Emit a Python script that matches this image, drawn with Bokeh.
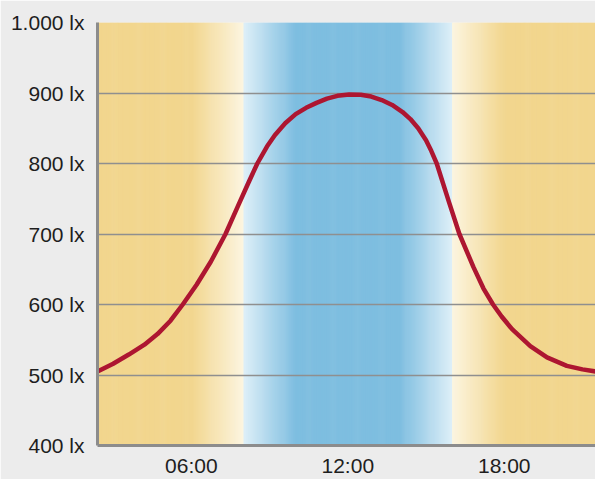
import numpy as np
from bokeh.plotting import figure
from bokeh.models import Range1d, FixedTicker
from bokeh.embed import file_html
from bokeh.resources import INLINE

# ---- data (hours of day, illuminance in lux) ----
hours = [2.30, 2.40, 3.00, 3.60, 4.20, 4.70, 5.20, 5.67, 6.20, 6.75, 7.31, 7.79,
         8.18, 8.53, 8.90, 9.20, 9.60, 10.00, 10.40, 10.80, 11.20, 11.60, 12.05,
         12.50, 12.90, 13.30, 13.70, 14.10, 14.40, 14.70, 15.00, 15.20, 15.41,
         15.90, 16.28, 16.82, 17.20, 17.57, 17.90, 18.30, 19.00, 19.64, 20.40,
         21.00, 21.50, 21.60]
lux = [504, 505, 516, 529, 543, 558, 577, 600, 628, 661, 700, 740,
       772, 800, 824, 840, 857, 870, 879, 886, 892, 896, 898,
       897.5, 895, 890, 883, 873, 863, 850, 833, 818, 800,
       743, 700, 653, 623, 600, 583, 565, 541, 525, 513,
       508, 505, 505]

x_ticks = [6, 12, 18]
x_tick_labels = ["06:00", "12:00", "18:00"]
y_ticks = [400, 500, 600, 700, 800, 900, 1000]
y_tick_labels = ["400 lx", "500 lx", "600 lx", "700 lx", "800 lx", "900 lx", "1.000 lx"]

# background phases (hours)
night_end = 6
dawn_end = 8
core_start = 10
core_end = 14
day_end = 16
night_start = 18
x_start, x_end = 2.40, 21.50
y_start, y_end = 400, 1000

# colours
night_col = np.array([242, 214, 142])
cream_col = np.array([252, 245, 224])
pale_blue = np.array([222, 239, 248])
core_blue = np.array([126, 190, 224])


def mix(a, b, t):
    c = a + (b - a) * t
    return "#%02x%02x%02x" % tuple(int(round(v)) for v in c)


def colour_at(h):
    if h < night_end or h >= night_start:
        return mix(night_col, night_col, 0)
    if h < dawn_end:
        return mix(night_col, cream_col, (h - night_end) / (dawn_end - night_end))
    if h < core_start:
        return mix(pale_blue, core_blue, (h - dawn_end) / (core_start - dawn_end))
    if h < core_end:
        return mix(core_blue, core_blue, 0)
    if h < day_end:
        return mix(core_blue, pale_blue, (h - core_end) / (day_end - core_end))
    return mix(cream_col, night_col, (h - day_end) / (night_start - day_end))


step = 0.04
lefts = np.round(np.arange(2.0, 22.0, step), 4)
rights = lefts + step * 1.6
cols = [colour_at(l + step / 2) for l in lefts]

p = figure(width=595, height=479,
           x_range=Range1d(x_start, x_end), y_range=Range1d(y_start, y_end),
           output_backend="svg", toolbar_location=None,
           min_border_left=97, min_border_right=0,
           min_border_top=22, min_border_bottom=34,
           background_fill_color="#ECECEC", border_fill_color="#ECECEC",
           outline_line_color=None)

p.quad(left=lefts, right=rights, bottom=y_start, top=y_end, fill_color=cols,
       line_color=None, level="image")

p.line(hours, lux, line_color="#AD1631", line_width=4.5, line_join="round", line_cap="round")

for ax in (p.xaxis[0], p.yaxis[0]):
    ax.major_tick_out = 0
    ax.major_tick_in = 0
    ax.minor_tick_out = 0
    ax.minor_tick_in = 0
    ax.axis_line_width = 3
    ax.axis_line_color = "#8C8C8C"
    ax.major_label_text_font = "Liberation Sans"
    ax.major_label_text_font_size = "21px"
    ax.major_label_text_color = "#1E1E1E"

p.yaxis.ticker = FixedTicker(ticks=y_ticks)
p.yaxis.major_label_overrides = {t: l for t, l in zip(y_ticks, y_tick_labels)}
p.yaxis.major_label_standoff = 13

p.xaxis.ticker = FixedTicker(ticks=x_ticks)
p.xaxis.major_label_overrides = {t: l for t, l in zip(x_ticks, x_tick_labels)}
p.xaxis.major_label_standoff = 8

p.xgrid.visible = False
p.ygrid.grid_line_color = "#8F8F8F"
p.ygrid.grid_line_width = 1.5

html = file_html(p, INLINE)
html = html.replace("<body>", '<body style="background:#ECECEC">', 1)
open("out.html", "w").write(html)
